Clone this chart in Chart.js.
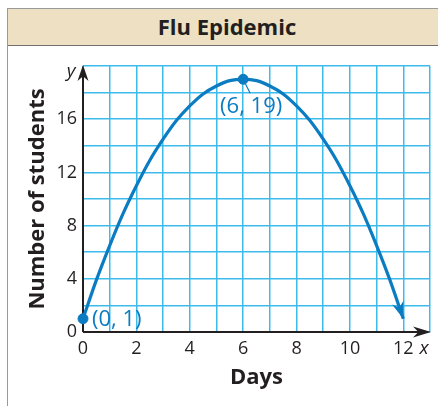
<!DOCTYPE html>
<html>
<head>
<meta charset="utf-8">
<script src="https://cdn.jsdelivr.net/npm/chart.js@4.4.1/dist/chart.umd.min.js"></script>
<style>
  body { margin: 0; background: #fff; }
  #frame {
    position: absolute; left: 7px; top: 8px; width: 440px; height: 410px;
    border: 1px solid #9a9a9a; box-sizing: border-box;
  }
  #header {
    height: 36px; background: #eee0c3; border-bottom: 1px solid #6f6f6f;
    font: bold 22px "Open Sans", sans-serif; color: #231f20;
    text-align: center; line-height: 35px;
  }
  #wrap { position: absolute; left: 0; top: 0; width: 438px; height: 406px; }
</style>
</head>
<body>
<div id="frame"><div id="header">Flu Epidemic</div></div>
<div id="wrap"><canvas id="grafico"></canvas></div>
<script>
const dias = [0, 0.5, 1, 1.5, 2, 2.5, 3, 3.5, 4, 4.5, 5, 5.5, 6, 6.5, 7, 7.5, 8, 8.5, 9, 9.5, 10, 10.5, 11, 11.5, 12];
const estudiantes = [1, 3.9, 6.5, 8.9, 11, 12.9, 14.5, 15.9, 17, 17.9, 18.5, 18.9, 19, 18.9, 18.5, 17.9, 17, 15.9, 14.5, 12.9, 11, 8.9, 6.5, 3.9, 1];
const puntosX = [0, 6];
const puntosY = [1, 19];
const etiquetasPuntos = ['(0, 1)', '(6, 19)'];
const ticksX = [0, 2, 4, 6, 8, 10, 12];
const ticksY = [0, 4, 8, 12, 16];

const azul = '#0b7cc2';
const tinta = '#231f20';

function flecha(ctx, x, y, ang, largo, ancho) {
    ctx.save();
    ctx.translate(x, y);
    ctx.rotate(ang);
    ctx.beginPath();
    ctx.moveTo(0, 0);
    ctx.lineTo(-largo, -ancho);
    ctx.lineTo(-largo * 0.7, 0);
    ctx.lineTo(-largo, ancho);
    ctx.closePath();
    ctx.fill();
    ctx.restore();
}

// ejes con flechas, la flecha de la curva y las etiquetas de los puntos
const extras = {
    id: 'extras',
    beforeDatasetsDraw(chart) {
        const ctx = chart.ctx;
        const a = chart.chartArea;
        ctx.save();
        ctx.strokeStyle = tinta;
        ctx.fillStyle = tinta;
        ctx.lineWidth = 2;
        ctx.beginPath();
        ctx.moveTo(a.left, a.bottom);
        ctx.lineTo(a.right - 4, a.bottom);
        ctx.moveTo(a.left, a.bottom);
        ctx.lineTo(a.left, a.top + 4);
        ctx.stroke();
        flecha(ctx, a.right + 1, a.bottom, 0, 18, 5.5);
        flecha(ctx, a.left, a.top - 1, -Math.PI / 2, 16, 5.5);
        ctx.font = 'italic 19px "Open Sans", sans-serif';
        ctx.textAlign = 'center';
        ctx.textBaseline = 'middle';
        ctx.fillText('y', a.left - 12, a.top + 6);
        ctx.fillText('x', a.right - 6, a.bottom + 17);
        ctx.restore();
    },
    afterDatasetsDraw(chart) {
        const ctx = chart.ctx;
        const sx = chart.scales.x;
        const sy = chart.scales.y;
        const n = dias.length;
        const x1 = sx.getPixelForValue(dias[n - 2]);
        const y1 = sy.getPixelForValue(estudiantes[n - 2]);
        const x2 = sx.getPixelForValue(dias[n - 1]);
        const y2 = sy.getPixelForValue(estudiantes[n - 1]);
        ctx.save();
        ctx.fillStyle = azul;
        flecha(ctx, x2, y2, Math.atan2(y2 - y1, x2 - x1), 17, 6);

        ctx.font = '22px "Open Sans", sans-serif';
        ctx.textBaseline = 'middle';
        const p0x = sx.getPixelForValue(puntosX[0]);
        const p0y = sy.getPixelForValue(puntosY[0]);
        ctx.textAlign = 'left';
        ctx.fillText(etiquetasPuntos[0], p0x + 9, p0y + 1);

        const p1x = sx.getPixelForValue(puntosX[1]);
        const p1y = sy.getPixelForValue(puntosY[1]);
        ctx.strokeStyle = azul;
        ctx.lineWidth = 1.2;
        ctx.beginPath();
        ctx.moveTo(p1x + 2, p1y + 4);
        ctx.lineTo(p1x + 7, p1y + 14);
        ctx.stroke();
        ctx.textAlign = 'center';
        ctx.fillText(etiquetasPuntos[1], p1x + 8, p1y + 27);
        ctx.restore();
    }
};

new Chart(document.getElementById('grafico'), {
    type: 'scatter',
    data: {
        datasets: [
            {
                data: dias.map((d, i) => ({ x: d, y: estudiantes[i] })),
                showLine: true,
                borderColor: azul,
                borderWidth: 3.2,
                pointRadius: 0,
                cubicInterpolationMode: 'monotone',
                fill: false,
                clip: false
            },
            {
                data: puntosX.map((d, i) => ({ x: d, y: puntosY[i] })),
                pointRadius: 5,
                pointBackgroundColor: azul,
                pointBorderColor: azul,
                showLine: false,
                clip: false
            }
        ]
    },
    options: {
        responsive: true,
        maintainAspectRatio: false,
        animation: false,
        layout: { padding: { left: 0, right: 8, top: 66, bottom: 0 } },
        plugins: {
            legend: { display: false },
            tooltip: { enabled: false }
        },
        scales: {
            x: {
                type: 'linear',
                min: 0,
                max: 13,
                afterFit(scale) { scale.height = 74; },
                grid: { color: '#3dbcec', lineWidth: 1.5, drawTicks: false },
                border: { display: false },
                ticks: {
                    stepSize: 1,
                    padding: 6,
                    color: tinta,
                    font: { family: 'Open Sans', size: 18 },
                    callback: v => ticksX.includes(v) ? String(v) : ''
                },
                title: {
                    display: true,
                    text: 'Days',
                    color: tinta,
                    font: { family: 'Open Sans', size: 22, weight: 'bold' },
                    padding: { top: 0, bottom: 15 }
                }
            },
            y: {
                type: 'linear',
                min: 0,
                max: 20,
                afterFit(scale) { scale.width = 83; },
                grid: { color: '#3dbcec', lineWidth: 1.5, drawTicks: false },
                border: { display: false },
                ticks: {
                    stepSize: 2,
                    padding: 6,
                    color: tinta,
                    font: { family: 'Open Sans', size: 18 },
                    callback: v => ticksY.includes(v) ? String(v) : ''
                },
                title: {
                    display: true,
                    text: 'Number of students',
                    color: tinta,
                    font: { family: 'Open Sans', size: 22, weight: 'bold' },
                    padding: { top: 25, bottom: 0 }
                }
            }
        }
    },
    plugins: [extras]
});
</script>
</body>
</html>
